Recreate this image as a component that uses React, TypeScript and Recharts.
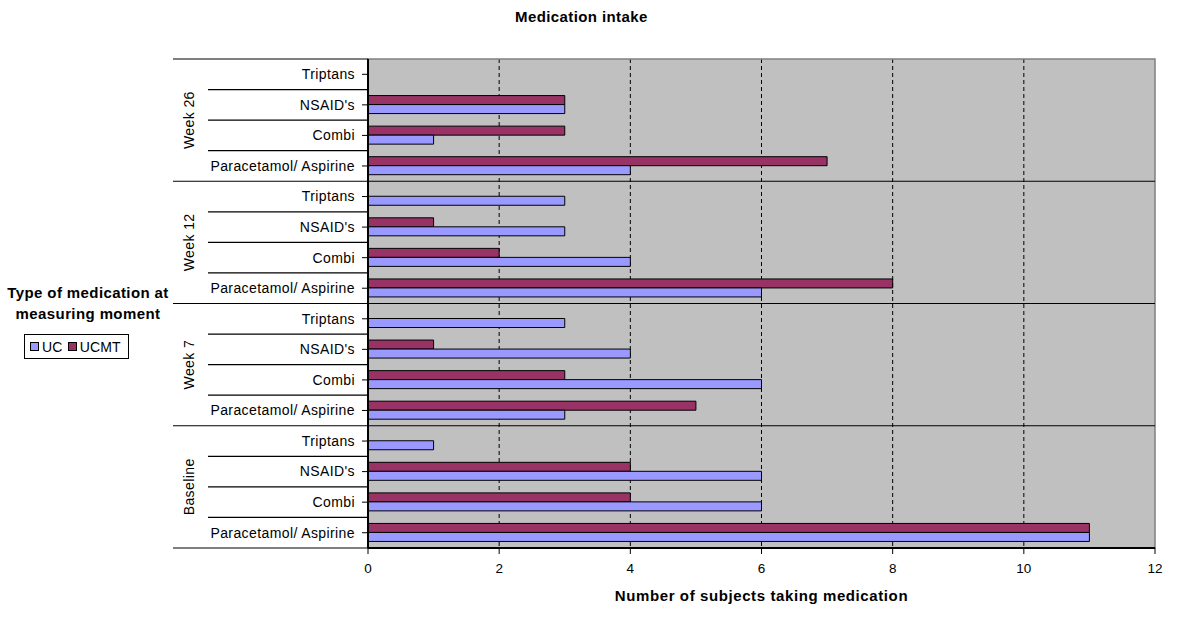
import { BarChart, Bar, XAxis, YAxis, CartesianGrid, ReferenceArea } from 'recharts'

const GROUPS = ['Week 26', 'Week 12', 'Week 7', 'Baseline']
const MEDS = ['Triptans', "NSAID's", 'Combi', 'Paracetamol/ Aspirine']
// top to bottom, 4 meds per group
const UCMT = [0, 3, 3, 7, 0, 1, 2, 8, 0, 1, 3, 5, 0, 4, 4, 11]
const UC = [0, 3, 1, 4, 3, 3, 4, 6, 3, 4, 6, 3, 1, 6, 6, 11]
const X_TICKS = [0, 2, 4, 6, 8, 10, 12]

const data = GROUPS.flatMap((g, gi) =>
  MEDS.map((m, mi) => ({ key: `${g}|${m}`, group: g, med: m, UCMT: UCMT[gi * 4 + mi], UC: UC[gi * 4 + mi] }))
)

const FONT = 'Liberation Sans, Arial, sans-serif'
const W = 1200, H = 630
const PLOT_LEFT = 368, PLOT_RIGHT = 1155, PLOT_TOP = 59, PLOT_BOTTOM = 548
const COL_UC = '#9999ff', COL_UCMT = '#993366'

function CatTick(props: any) {
  const { x, y, payload } = props
  const idx = data.findIndex(d => d.key === payload.value)
  const row = data[idx]
  const half = payload.offset ?? (PLOT_BOTTOM - PLOT_TOP) / data.length / 2
  const groupEnd = idx % 4 === 3
  return (
    <g>
      <text x={x} y={y} dy="0.35em" textAnchor="end" fontSize={14} letterSpacing={0.4} fill="#000" fontFamily={FONT}>{row.med}</text>
      {idx === 0 && <line x1={173} x2={PLOT_LEFT} y1={y - half} y2={y - half} stroke="#000" strokeWidth={1.2} />}
      <line x1={groupEnd ? 173 : 208} x2={groupEnd ? PLOT_RIGHT : PLOT_LEFT} y1={y + half} y2={y + half} stroke="#000" strokeWidth={1.2} />
      {idx % 4 === 1 && (
        <text x={189} y={y + half} transform={`rotate(-90 189 ${y + half})`} textAnchor="middle" dy="0.35em"
          fontSize={14} letterSpacing={0.4} fill="#000" fontFamily={FONT}>{row.group}</text>
      )}
    </g>
  )
}

const bold = { fontFamily: FONT, fontWeight: 700, fontSize: 15, letterSpacing: 0.4, color: '#000' } as const

export default function App() {
  return (
    <div style={{ position: 'absolute', left: 0, top: 0, width: W, height: H, background: '#fff', fontFamily: FONT }}>
      <div style={{ ...bold, position: 'absolute', left: 515, top: 8, whiteSpace: 'nowrap' }}>Medication intake</div>
      <div style={{ ...bold, position: 'absolute', left: 0, width: 176, top: 282, textAlign: 'center', lineHeight: '21px' }}>
        Type of medication at<br />measuring moment
      </div>
      <div style={{ position: 'absolute', left: 24, top: 334, width: 103, height: 23, border: '1px solid #000', display: 'flex', alignItems: 'center', fontSize: 14, letterSpacing: 0.2 }}>
        {[['UC', COL_UC], ['UCMT', COL_UCMT]].map(([n, c]) => (
          <span key={n} style={{ display: 'flex', alignItems: 'center', marginLeft: 5 }}>
            <span style={{ width: 7, height: 7, background: c, border: '1px solid #000', marginRight: 3 }} />
            {n}
          </span>
        ))}
      </div>
      <BarChart width={W} height={H} data={data} layout="vertical" barGap={0}
        margin={{ top: PLOT_TOP, right: W - PLOT_RIGHT, bottom: H - PLOT_BOTTOM - 30, left: PLOT_LEFT - 200 }}>
        <CartesianGrid horizontal={false} verticalValues={X_TICKS.slice(1, -1)} stroke="#000" strokeDasharray="4 3" fill="#c0c0c0" />
        <ReferenceArea x1={0} x2={12} fill="none" stroke="#808080" strokeWidth={1.5} />
        <Bar dataKey="UCMT" fill={COL_UCMT} stroke="#000" strokeWidth={1} barSize={9} isAnimationActive={false} />
        <Bar dataKey="UC" fill={COL_UC} stroke="#000" strokeWidth={1} barSize={9} isAnimationActive={false} />
        <XAxis type="number" domain={[0, 12]} ticks={X_TICKS} height={30} tickSize={6} tickMargin={9}
          axisLine={{ stroke: '#000', strokeWidth: 2 }} tickLine={{ stroke: '#000' }}
          tick={{ fontSize: 13.5, fill: '#000', fontFamily: FONT }}
          label={{ value: 'Number of subjects taking medication', position: 'bottom', offset: 12, style: { fontFamily: FONT, fontWeight: 700, fontSize: 15, letterSpacing: 0.6, fill: '#000' } }} />
        <YAxis type="category" dataKey="key" width={200} interval={0} tickSize={6} tickMargin={7}
          axisLine={{ stroke: '#000', strokeWidth: 2 }} tickLine={{ stroke: '#000' }} tick={<CatTick />} />
      </BarChart>
    </div>
  )
}
